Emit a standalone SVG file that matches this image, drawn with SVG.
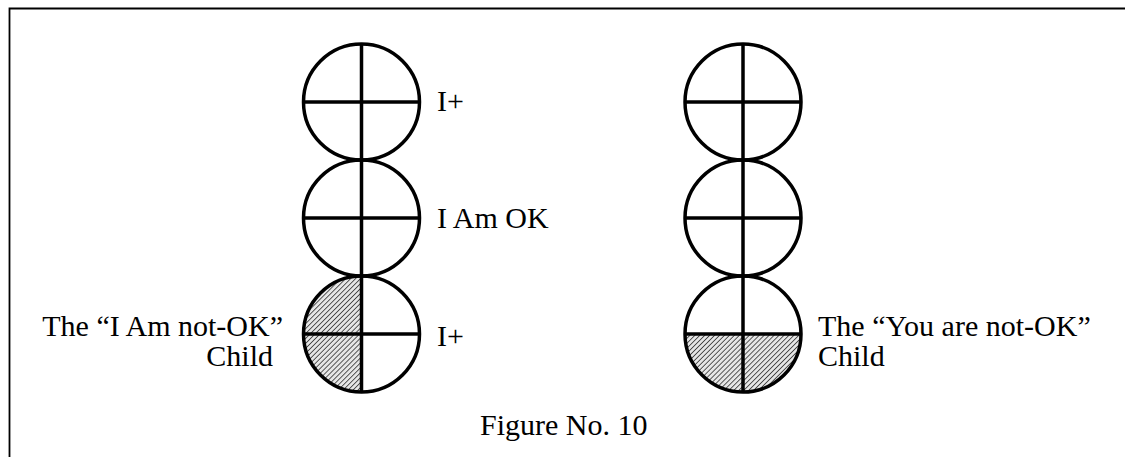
<svg xmlns="http://www.w3.org/2000/svg" width="1125" height="457" viewBox="0 0 1125 457">
<defs>
<pattern id="hatch" patternUnits="userSpaceOnUse" width="3.5" height="3.5" patternTransform="rotate(45)">
<rect width="3.5" height="3.5" fill="#e6e6e6"/>
<line x1="0" y1="0" x2="0" y2="3.5" stroke="#333" stroke-width="1.6"/>
</pattern>
</defs>
<style>
.c{fill:none;stroke:#000;stroke-width:3.5}
.l{stroke:#000;stroke-width:3.5}
text{font-family:"Liberation Serif","Times New Roman",serif;font-size:30px;fill:#000}
.r{text-anchor:end}
</style>
<rect x="0" y="0" width="1125" height="457" fill="#fff"/>
<path d="M9.5 460 V8.5 H1130" fill="none" stroke="#000" stroke-width="1.8"/>
<g id="left-column">
<path d="M361.5 334 H303.5 A58 58 0 0 1 361.5 276 Z" fill="url(#hatch)"/>
<path d="M361.5 334 H303.5 A58 58 0 0 0 361.5 392 Z" fill="url(#hatch)"/>
<circle class="c" cx="361.5" cy="102" r="58"/>
<circle class="c" cx="361.5" cy="218" r="58"/>
<circle class="c" cx="361.5" cy="334" r="58"/>
<line class="l" x1="361.5" y1="44" x2="361.5" y2="392"/>
<line class="l" x1="303.5" y1="102" x2="419.5" y2="102"/>
<line class="l" x1="303.5" y1="218" x2="419.5" y2="218"/>
<line class="l" x1="303.5" y1="334" x2="419.5" y2="334"/>
</g>
<g id="right-column">
<path d="M685 334 H801 A58 58 0 0 1 685 334 Z" fill="url(#hatch)"/>
<circle class="c" cx="743" cy="102" r="58"/>
<circle class="c" cx="743" cy="218" r="58"/>
<circle class="c" cx="743" cy="334" r="58"/>
<line class="l" x1="743" y1="44" x2="743" y2="392"/>
<line class="l" x1="685" y1="102" x2="801" y2="102"/>
<line class="l" x1="685" y1="218" x2="801" y2="218"/>
<line class="l" x1="685" y1="334" x2="801" y2="334"/>
</g>
<g id="labels">
<text x="437" y="111">I+</text>
<text x="437" y="228">I Am OK</text>
<text x="437" y="346">I+</text>
<text class="r" x="283" y="336">The “I Am not-OK”</text>
<text class="r" x="273" y="366">Child</text>
<text x="818" y="336">The “You are not-OK”</text>
<text x="818" y="366">Child</text>
<text x="480" y="435">Figure No. 10</text>
</g>
</svg>
